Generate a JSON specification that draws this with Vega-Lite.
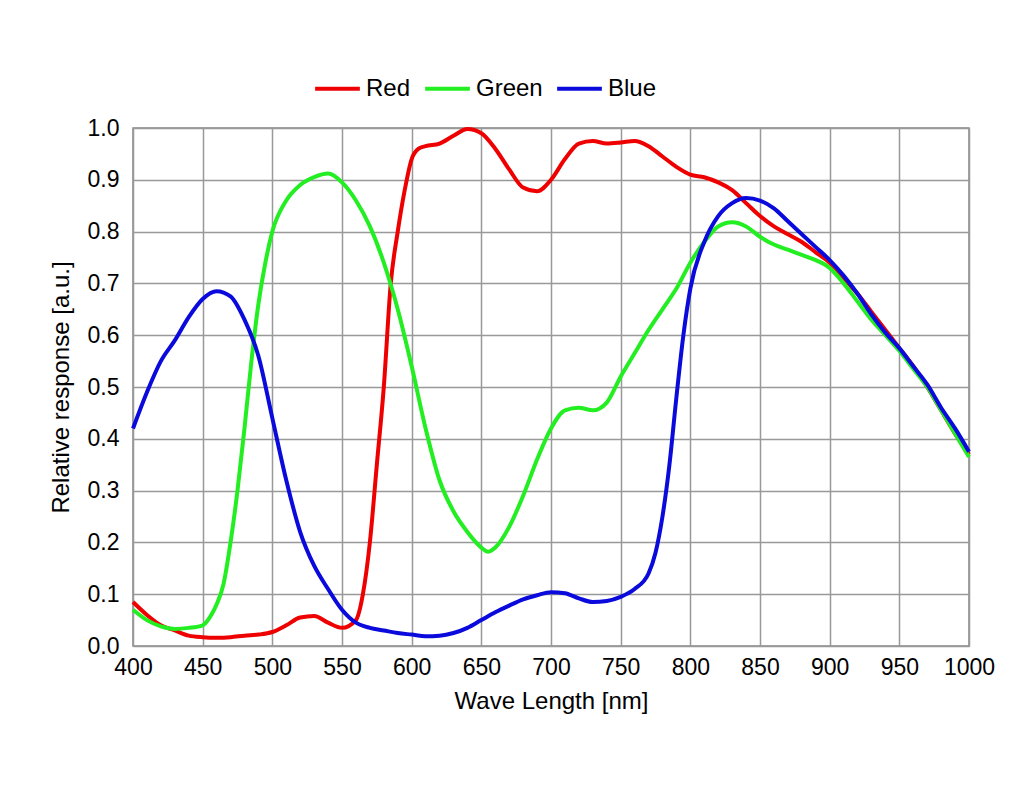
{"$schema":"https://vega.github.io/schema/vega-lite/v6.json","width":836,"height":518,"autosize":{"type":"none"},"padding":{"left":133,"top":128,"right":55,"bottom":143},"background":"white","config":{"font":"Liberation Sans","view":{"stroke":"#888","strokeWidth":1.5}},
"data":{"values":[
{"s":"Red","x":400,"y":0.085},{"s":"Red","x":410,"y":0.06},{"s":"Red","x":420,"y":0.04},{"s":"Red","x":430,"y":0.03},{"s":"Red","x":440,"y":0.02},{"s":"Red","x":450,"y":0.017},{"s":"Red","x":460,"y":0.016},{"s":"Red","x":470,"y":0.017},{"s":"Red","x":480,"y":0.02},{"s":"Red","x":490,"y":0.022},{"s":"Red","x":500,"y":0.027},{"s":"Red","x":510,"y":0.04},{"s":"Red","x":520,"y":0.055},{"s":"Red","x":530,"y":0.058},{"s":"Red","x":540,"y":0.045},{"s":"Red","x":550,"y":0.035},{"s":"Red","x":560,"y":0.05},{"s":"Red","x":565,"y":0.1},{"s":"Red","x":570,"y":0.2},{"s":"Red","x":575,"y":0.35},{"s":"Red","x":580,"y":0.5},{"s":"Red","x":585,"y":0.7},{"s":"Red","x":590,"y":0.8},{"s":"Red","x":595,"y":0.88},{"s":"Red","x":600,"y":0.94},{"s":"Red","x":605,"y":0.96},{"s":"Red","x":610,"y":0.965},{"s":"Red","x":620,"y":0.97},{"s":"Red","x":630,"y":0.985},{"s":"Red","x":640,"y":0.998},{"s":"Red","x":650,"y":0.99},{"s":"Red","x":660,"y":0.96},{"s":"Red","x":670,"y":0.92},{"s":"Red","x":680,"y":0.885},{"s":"Red","x":690,"y":0.878},{"s":"Red","x":700,"y":0.9},{"s":"Red","x":710,"y":0.94},{"s":"Red","x":720,"y":0.97},{"s":"Red","x":730,"y":0.975},{"s":"Red","x":740,"y":0.97},{"s":"Red","x":750,"y":0.972},{"s":"Red","x":760,"y":0.975},{"s":"Red","x":770,"y":0.965},{"s":"Red","x":780,"y":0.945},{"s":"Red","x":790,"y":0.925},{"s":"Red","x":800,"y":0.91},{"s":"Red","x":810,"y":0.905},{"s":"Red","x":820,"y":0.895},{"s":"Red","x":830,"y":0.88},{"s":"Red","x":840,"y":0.855},{"s":"Red","x":850,"y":0.83},{"s":"Red","x":860,"y":0.81},{"s":"Red","x":870,"y":0.795},{"s":"Red","x":880,"y":0.78},{"s":"Red","x":890,"y":0.76},{"s":"Red","x":900,"y":0.74},{"s":"Red","x":910,"y":0.71},{"s":"Red","x":920,"y":0.68},{"s":"Red","x":930,"y":0.645},{"s":"Red","x":940,"y":0.61},{"s":"Red","x":950,"y":0.575},{"s":"Red","x":960,"y":0.54},{"s":"Red","x":970,"y":0.5},{"s":"Red","x":980,"y":0.455},{"s":"Red","x":990,"y":0.41},{"s":"Red","x":1000,"y":0.37},
{"s":"Green","x":400,"y":0.07},{"s":"Green","x":410,"y":0.05},{"s":"Green","x":420,"y":0.038},{"s":"Green","x":430,"y":0.033},{"s":"Green","x":440,"y":0.035},{"s":"Green","x":450,"y":0.04},{"s":"Green","x":455,"y":0.055},{"s":"Green","x":460,"y":0.08},{"s":"Green","x":465,"y":0.12},{"s":"Green","x":470,"y":0.2},{"s":"Green","x":475,"y":0.3},{"s":"Green","x":480,"y":0.42},{"s":"Green","x":485,"y":0.55},{"s":"Green","x":490,"y":0.66},{"s":"Green","x":495,"y":0.74},{"s":"Green","x":500,"y":0.8},{"s":"Green","x":510,"y":0.86},{"s":"Green","x":520,"y":0.89},{"s":"Green","x":530,"y":0.905},{"s":"Green","x":540,"y":0.912},{"s":"Green","x":550,"y":0.895},{"s":"Green","x":560,"y":0.86},{"s":"Green","x":570,"y":0.81},{"s":"Green","x":580,"y":0.74},{"s":"Green","x":590,"y":0.65},{"s":"Green","x":600,"y":0.54},{"s":"Green","x":610,"y":0.42},{"s":"Green","x":620,"y":0.32},{"s":"Green","x":630,"y":0.26},{"s":"Green","x":640,"y":0.22},{"s":"Green","x":650,"y":0.19},{"s":"Green","x":655,"y":0.182},{"s":"Green","x":660,"y":0.19},{"s":"Green","x":670,"y":0.23},{"s":"Green","x":680,"y":0.29},{"s":"Green","x":690,"y":0.36},{"s":"Green","x":700,"y":0.42},{"s":"Green","x":710,"y":0.455},{"s":"Green","x":720,"y":0.46},{"s":"Green","x":730,"y":0.455},{"s":"Green","x":740,"y":0.47},{"s":"Green","x":750,"y":0.52},{"s":"Green","x":760,"y":0.565},{"s":"Green","x":770,"y":0.61},{"s":"Green","x":780,"y":0.65},{"s":"Green","x":790,"y":0.69},{"s":"Green","x":800,"y":0.74},{"s":"Green","x":810,"y":0.78},{"s":"Green","x":820,"y":0.81},{"s":"Green","x":830,"y":0.818},{"s":"Green","x":840,"y":0.81},{"s":"Green","x":850,"y":0.79},{"s":"Green","x":860,"y":0.775},{"s":"Green","x":870,"y":0.765},{"s":"Green","x":880,"y":0.755},{"s":"Green","x":890,"y":0.745},{"s":"Green","x":900,"y":0.73},{"s":"Green","x":910,"y":0.7},{"s":"Green","x":920,"y":0.665},{"s":"Green","x":930,"y":0.63},{"s":"Green","x":940,"y":0.6},{"s":"Green","x":950,"y":0.57},{"s":"Green","x":960,"y":0.535},{"s":"Green","x":970,"y":0.5},{"s":"Green","x":980,"y":0.455},{"s":"Green","x":990,"y":0.41},{"s":"Green","x":1000,"y":0.365},
{"s":"Blue","x":400,"y":0.42},{"s":"Blue","x":410,"y":0.49},{"s":"Blue","x":420,"y":0.55},{"s":"Blue","x":430,"y":0.59},{"s":"Blue","x":440,"y":0.635},{"s":"Blue","x":450,"y":0.67},{"s":"Blue","x":460,"y":0.685},{"s":"Blue","x":470,"y":0.675},{"s":"Blue","x":480,"y":0.63},{"s":"Blue","x":490,"y":0.56},{"s":"Blue","x":500,"y":0.44},{"s":"Blue","x":510,"y":0.32},{"s":"Blue","x":520,"y":0.22},{"s":"Blue","x":530,"y":0.155},{"s":"Blue","x":540,"y":0.11},{"s":"Blue","x":550,"y":0.07},{"s":"Blue","x":560,"y":0.045},{"s":"Blue","x":570,"y":0.035},{"s":"Blue","x":580,"y":0.03},{"s":"Blue","x":590,"y":0.025},{"s":"Blue","x":600,"y":0.022},{"s":"Blue","x":610,"y":0.019},{"s":"Blue","x":620,"y":0.02},{"s":"Blue","x":630,"y":0.025},{"s":"Blue","x":640,"y":0.035},{"s":"Blue","x":650,"y":0.05},{"s":"Blue","x":660,"y":0.065},{"s":"Blue","x":670,"y":0.078},{"s":"Blue","x":680,"y":0.09},{"s":"Blue","x":690,"y":0.098},{"s":"Blue","x":700,"y":0.104},{"s":"Blue","x":710,"y":0.102},{"s":"Blue","x":720,"y":0.092},{"s":"Blue","x":730,"y":0.085},{"s":"Blue","x":740,"y":0.087},{"s":"Blue","x":750,"y":0.095},{"s":"Blue","x":760,"y":0.11},{"s":"Blue","x":770,"y":0.14},{"s":"Blue","x":775,"y":0.18},{"s":"Blue","x":780,"y":0.25},{"s":"Blue","x":785,"y":0.35},{"s":"Blue","x":790,"y":0.48},{"s":"Blue","x":795,"y":0.6},{"s":"Blue","x":800,"y":0.69},{"s":"Blue","x":810,"y":0.78},{"s":"Blue","x":820,"y":0.83},{"s":"Blue","x":830,"y":0.855},{"s":"Blue","x":840,"y":0.865},{"s":"Blue","x":850,"y":0.86},{"s":"Blue","x":860,"y":0.845},{"s":"Blue","x":870,"y":0.82},{"s":"Blue","x":880,"y":0.795},{"s":"Blue","x":890,"y":0.77},{"s":"Blue","x":900,"y":0.745},{"s":"Blue","x":910,"y":0.715},{"s":"Blue","x":920,"y":0.68},{"s":"Blue","x":930,"y":0.64},{"s":"Blue","x":940,"y":0.605},{"s":"Blue","x":950,"y":0.575},{"s":"Blue","x":960,"y":0.54},{"s":"Blue","x":970,"y":0.505},{"s":"Blue","x":980,"y":0.46},{"s":"Blue","x":990,"y":0.42},{"s":"Blue","x":1000,"y":0.375}
]},
"mark":{"type":"line","strokeWidth":4,"interpolate":"monotone"},
"encoding":{
"x":{"field":"x","type":"quantitative","scale":{"domain":[400,1000],"nice":false},"axis":{"values":[400,450,500,550,600,650,700,750,800,850,900,950,1000],"format":"d","title":"Wave Length [nm]","titleFontSize":24,"titleFontWeight":"normal","titleColor":"black","titlePadding":10,"labelFontSize":23,"labelColor":"black","gridColor":"#999","gridWidth":1.5,"domain":false,"ticks":false,"labelPadding":10,"labelFlush":false}},
"y":{"field":"y","type":"quantitative","scale":{"domain":[0,1],"nice":false},"axis":{"values":[0,0.1,0.2,0.3,0.4,0.5,0.6,0.7,0.8,0.9,1.0],"format":".1f","title":"Relative response [a.u.]","titleFontSize":24,"titleFontWeight":"normal","titleColor":"black","titlePadding":14,"labelFontSize":23,"labelColor":"black","gridColor":"#999","gridWidth":1.5,"domain":false,"ticks":false,"labelPadding":14}},
"color":{"field":"s","type":"nominal","sort":["Red","Green","Blue"],"scale":{"domain":["Red","Green","Blue"],"range":["#ee0000","#22ee22","#0a0adc"]},"legend":{"title":null,"orient":"none","direction":"horizontal","legendX":180,"legendY":-64,"labelFontSize":24,"labelColor":"black","symbolType":"stroke","symbolStrokeWidth":4,"symbolSize":2000,"columnPadding":6,"labelOffset":4}}
}}
